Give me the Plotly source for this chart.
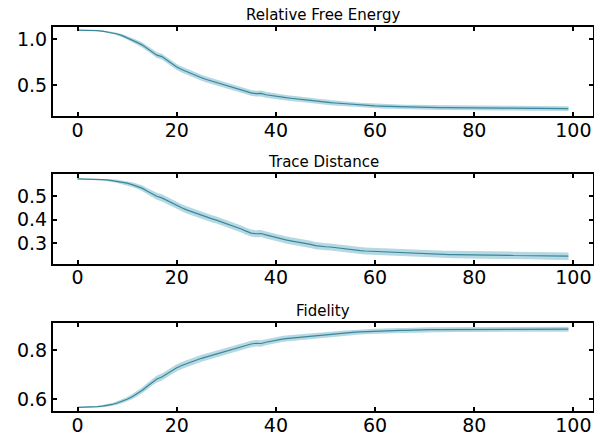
import plotly.graph_objects as go

steps = list(range(100))

free_energy_mean = [
    1.100, 1.100, 1.099, 1.097, 1.094, 1.090, 1.082, 1.072, 1.058, 1.040,
    1.018, 0.993, 0.967, 0.940, 0.905, 0.862, 0.828, 0.812, 0.775, 0.735,
    0.700, 0.672, 0.648, 0.622, 0.600, 0.582, 0.563, 0.546, 0.532, 0.513,
    0.495, 0.480, 0.465, 0.450, 0.433, 0.418, 0.410, 0.412, 0.398, 0.388,
    0.380, 0.373, 0.366, 0.360, 0.357, 0.354, 0.343, 0.336, 0.328, 0.321,
    0.315, 0.312, 0.308, 0.303, 0.298, 0.293, 0.289, 0.286, 0.282, 0.279,
    0.276, 0.274, 0.272, 0.270, 0.268, 0.266, 0.265, 0.264, 0.263, 0.262,
    0.261, 0.260, 0.259, 0.258, 0.257, 0.256, 0.256, 0.255, 0.254, 0.254,
    0.253, 0.253, 0.252, 0.252, 0.251, 0.251, 0.252, 0.253, 0.253, 0.252,
    0.251, 0.250, 0.250, 0.249, 0.249, 0.248, 0.248, 0.248, 0.247, 0.247,
]
free_energy_std = [
    0.003, 0.003, 0.004, 0.005, 0.006, 0.007, 0.009, 0.011, 0.014, 0.017,
    0.020, 0.023, 0.026, 0.028, 0.030, 0.031, 0.032, 0.032, 0.032, 0.032,
    0.032, 0.032, 0.032, 0.032, 0.032, 0.032, 0.032, 0.032, 0.032, 0.032,
    0.032, 0.032, 0.032, 0.032, 0.032, 0.032, 0.032, 0.032, 0.032, 0.031,
    0.031, 0.031, 0.030, 0.030, 0.030, 0.029, 0.029, 0.028, 0.028, 0.028,
    0.027, 0.027, 0.027, 0.027, 0.026, 0.026, 0.026, 0.026, 0.026, 0.026,
    0.025, 0.025, 0.025, 0.025, 0.025, 0.025, 0.025, 0.025, 0.025, 0.025,
    0.025, 0.025, 0.025, 0.025, 0.025, 0.025, 0.025, 0.025, 0.025, 0.025,
    0.025, 0.025, 0.025, 0.025, 0.025, 0.025, 0.025, 0.025, 0.025, 0.025,
    0.025, 0.025, 0.025, 0.025, 0.025, 0.025, 0.025, 0.025, 0.025, 0.025,
]

trace_mean = [
    0.572, 0.572, 0.571, 0.571, 0.570, 0.569, 0.568, 0.565, 0.562, 0.558,
    0.554, 0.548, 0.541, 0.533, 0.521, 0.509, 0.499, 0.492, 0.481, 0.469,
    0.459, 0.450, 0.441, 0.433, 0.426, 0.418, 0.411, 0.404, 0.398, 0.391,
    0.382, 0.374, 0.368, 0.360, 0.351, 0.343, 0.340, 0.341, 0.335, 0.329,
    0.323, 0.318, 0.314, 0.310, 0.307, 0.304, 0.300, 0.295, 0.290, 0.286,
    0.285, 0.284, 0.281, 0.278, 0.275, 0.273, 0.271, 0.269, 0.267, 0.266,
    0.265, 0.265, 0.264, 0.262, 0.261, 0.260, 0.259, 0.258, 0.257, 0.257,
    0.256, 0.255, 0.254, 0.253, 0.252, 0.252, 0.252, 0.252, 0.251, 0.251,
    0.250, 0.250, 0.250, 0.250, 0.250, 0.250, 0.249, 0.249, 0.248, 0.248,
    0.248, 0.248, 0.247, 0.247, 0.247, 0.246, 0.246, 0.246, 0.245, 0.245,
]
trace_std = [
    0.002, 0.002, 0.002, 0.003, 0.003, 0.004, 0.005, 0.006, 0.007, 0.008,
    0.009, 0.010, 0.011, 0.012, 0.013, 0.014, 0.015, 0.015, 0.015, 0.015,
    0.015, 0.015, 0.015, 0.015, 0.015, 0.015, 0.015, 0.015, 0.015, 0.015,
    0.015, 0.015, 0.015, 0.015, 0.015, 0.015, 0.015, 0.015, 0.015, 0.015,
    0.015, 0.015, 0.015, 0.015, 0.015, 0.015, 0.015, 0.015, 0.015, 0.015,
    0.015, 0.015, 0.015, 0.015, 0.015, 0.015, 0.015, 0.015, 0.015, 0.015,
    0.015, 0.015, 0.015, 0.015, 0.015, 0.015, 0.015, 0.016, 0.016, 0.016,
    0.016, 0.016, 0.016, 0.016, 0.016, 0.016, 0.016, 0.016, 0.016, 0.016,
    0.016, 0.016, 0.016, 0.016, 0.016, 0.016, 0.016, 0.016, 0.016, 0.016,
    0.016, 0.016, 0.016, 0.016, 0.016, 0.016, 0.016, 0.016, 0.016, 0.016,
]

fidelity_mean = [
    0.567, 0.567, 0.568, 0.569, 0.570, 0.572, 0.575, 0.579, 0.585, 0.592,
    0.600, 0.610, 0.622, 0.636, 0.652, 0.669, 0.682, 0.690, 0.703, 0.716,
    0.728, 0.737, 0.745, 0.753, 0.760, 0.766, 0.772, 0.778, 0.784, 0.790,
    0.797, 0.803, 0.808, 0.813, 0.819, 0.824, 0.827, 0.826, 0.831, 0.836,
    0.840, 0.843, 0.846, 0.848, 0.851, 0.853, 0.855, 0.857, 0.859, 0.861,
    0.863, 0.864, 0.866, 0.867, 0.869, 0.870, 0.872, 0.873, 0.874, 0.875,
    0.876, 0.877, 0.877, 0.878, 0.878, 0.879, 0.879, 0.880, 0.880, 0.881,
    0.881, 0.882, 0.882, 0.882, 0.883, 0.883, 0.883, 0.883, 0.883, 0.883,
    0.883, 0.884, 0.884, 0.884, 0.884, 0.884, 0.884, 0.884, 0.884, 0.884,
    0.884, 0.884, 0.884, 0.884, 0.884, 0.884, 0.884, 0.884, 0.884, 0.884,
]
fidelity_std = [
    0.002, 0.002, 0.002, 0.003, 0.003, 0.004, 0.005, 0.006, 0.007, 0.008,
    0.009, 0.010, 0.011, 0.012, 0.013, 0.013, 0.014, 0.014, 0.014, 0.014,
    0.014, 0.014, 0.014, 0.014, 0.014, 0.014, 0.014, 0.014, 0.014, 0.014,
    0.013, 0.013, 0.013, 0.013, 0.013, 0.013, 0.013, 0.013, 0.012, 0.012,
    0.012, 0.012, 0.012, 0.012, 0.011, 0.011, 0.011, 0.011, 0.011, 0.011,
    0.011, 0.010, 0.010, 0.010, 0.010, 0.010, 0.010, 0.010, 0.010, 0.010,
    0.010, 0.010, 0.010, 0.010, 0.010, 0.010, 0.010, 0.010, 0.010, 0.010,
    0.010, 0.010, 0.010, 0.010, 0.010, 0.010, 0.010, 0.010, 0.010, 0.010,
    0.010, 0.010, 0.010, 0.010, 0.010, 0.010, 0.010, 0.010, 0.010, 0.010,
    0.010, 0.010, 0.010, 0.010, 0.010, 0.010, 0.010, 0.010, 0.010, 0.010,
]

titles = ["Relative Free Energy", "Trace Distance", "Fidelity"]
x_ticks = [0, 20, 40, 60, 80, 100]
y_ticks = [[0.5, 1.0], [0.3, 0.4, 0.5], [0.6, 0.8]]
y_ranges = [[0.166, 1.134], [0.214, 0.591], [0.5525, 0.911]]

LINE = "rgb(58,134,154)"
BAND = "rgba(120,184,203,0.55)"
FONT = "DejaVu Sans"

series = [
    (free_energy_mean, free_energy_std),
    (trace_mean, trace_std),
    (fidelity_mean, fidelity_std),
]

fig = go.Figure()
domains = [[0.768, 1.0], [0.384, 0.616], [0.0, 0.2304]]

for i, (mean, std) in enumerate(series):
    ax = "" if i == 0 else str(i + 1)
    upper = [m + s for m, s in zip(mean, std)]
    lower = [m - s for m, s in zip(mean, std)]
    fig.add_trace(go.Scatter(x=steps, y=upper, mode="lines",
                             line=dict(width=0, color=BAND),
                             xaxis="x" + ax, yaxis="y" + ax,
                             showlegend=False, hoverinfo="skip"))
    fig.add_trace(go.Scatter(x=steps, y=lower, mode="lines",
                             line=dict(width=0, color=BAND),
                             fill="tonexty", fillcolor=BAND,
                             xaxis="x" + ax, yaxis="y" + ax,
                             showlegend=False, hoverinfo="skip"))
    fig.add_trace(go.Scatter(x=steps, y=mean, mode="lines",
                             line=dict(width=1.2, color=LINE),
                             xaxis="x" + ax, yaxis="y" + ax,
                             showlegend=False))

axis_common = dict(showline=True, linecolor="black", linewidth=2,
                   mirror="ticks", ticks="inside", ticklen=4, tickwidth=1.5,
                   tickcolor="black", showgrid=False, zeroline=False,
                   automargin=False,
                   tickfont=dict(family=FONT, size=19, color="black"))

# the page body adds an 8px offset at top/left; size the figure to fill the rest
layout = dict(width=594, height=426,
              margin=dict(l=45, r=9, t=19, b=23),
              paper_bgcolor="white", plot_bgcolor="white",
              showlegend=False)

annotations = []
for i in range(3):
    ax = "" if i == 0 else str(i + 1)
    layout["xaxis" + ax] = dict(axis_common, domain=[0, 1],
                                anchor="y" + ax, range=[-4.95, 103.95],
                                tickvals=x_ticks, ticklabelstandoff=-4)
    layout["yaxis" + ax] = dict(axis_common, domain=domains[i],
                                anchor="x" + ax, range=y_ranges[i],
                                tickvals=y_ticks[i], tickformat=".1f")
    annotations.append(dict(text=titles[i], x=0.5, xref="paper",
                            y=domains[i][1], yref="paper",
                            xanchor="center", yanchor="bottom", yshift=1,
                            showarrow=False,
                            font=dict(family=FONT, size=15, color="black")))
layout["annotations"] = annotations

fig.update_layout(**layout)
fig.write_html("out.html")
